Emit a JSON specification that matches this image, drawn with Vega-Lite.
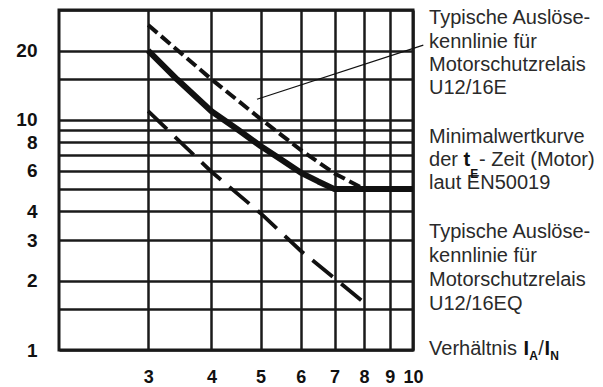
{
  "$schema": "https://vega.github.io/schema/vega-lite/v6.json",
  "width": 354,
  "height": 340,
  "autosize": {"type": "none"},
  "padding": {"left": 59, "top": 10, "right": 190, "bottom": 37},
  "background": "white",
  "config": {
    "view": {"stroke": "#1a1a1a", "strokeWidth": 3},
    "text": {"font": "Liberation Sans"}
  },
  "datasets": {
    "curves": [
      {"series": "U12/16E", "x": 3, "y": 25.8},
      {"series": "U12/16E", "x": 4, "y": 15},
      {"series": "U12/16E", "x": 5, "y": 10.1},
      {"series": "U12/16E", "x": 6, "y": 7.4},
      {"series": "U12/16E", "x": 7, "y": 5.85},
      {"series": "U12/16E", "x": 7.88, "y": 5.1},
      {"series": "EN50019", "x": 3, "y": 20},
      {"series": "EN50019", "x": 3.42, "y": 15},
      {"series": "EN50019", "x": 4, "y": 10.9},
      {"series": "EN50019", "x": 4.5, "y": 9.1},
      {"series": "EN50019", "x": 5, "y": 7.7},
      {"series": "EN50019", "x": 5.5, "y": 6.7},
      {"series": "EN50019", "x": 6, "y": 5.9},
      {"series": "EN50019", "x": 6.5, "y": 5.4},
      {"series": "EN50019", "x": 7, "y": 5.0},
      {"series": "EN50019", "x": 10, "y": 5.0},
      {"series": "U12/16EQ", "x": 3, "y": 10.9},
      {"series": "U12/16EQ", "x": 4, "y": 5.95},
      {"series": "U12/16EQ", "x": 5, "y": 3.93},
      {"series": "U12/16EQ", "x": 6, "y": 2.7},
      {"series": "U12/16EQ", "x": 7, "y": 2.05},
      {"series": "U12/16EQ", "x": 8.05, "y": 1.59},
      {"series": "leader", "x": 4.92, "y": 12.28},
      {"series": "leader", "x": 10.48, "y": 21.1}
    ],
    "labels": [
      {"kind": "normal", "x": 10.757, "y": 26.08, "t": "Typische Auslöse-"},
      {"kind": "normal", "x": 10.757, "y": 20.57, "t": "kennlinie für"},
      {"kind": "normal", "x": 10.757, "y": 16.29, "t": "Motorschutzrelais"},
      {"kind": "normal", "x": 10.757, "y": 12.91, "t": "U12/16E"},
      {"kind": "normal", "x": 10.757, "y": 7.95, "t": "Minimalwertkurve"},
      {"kind": "normal", "x": 10.757, "y": 6.30, "t": "der"},
      {"kind": "normal", "x": 13.506, "y": 6.30, "t": "- Zeit (Motor)"},
      {"kind": "normal", "x": 10.757, "y": 4.99, "t": "laut EN50019"},
      {"kind": "normal", "x": 10.757, "y": 3.075, "t": "Typische Auslöse-"},
      {"kind": "normal", "x": 10.757, "y": 2.419, "t": "kennlinie für"},
      {"kind": "normal", "x": 10.757, "y": 1.903, "t": "Motorschutzrelais"},
      {"kind": "normal", "x": 10.757, "y": 1.492, "t": "U12/16EQ"},
      {"kind": "normal", "x": 10.757, "y": 0.951, "t": "Verhältnis"},
      {"kind": "normal", "x": 17.68, "y": 0.951, "t": "/"},
      {"kind": "bold", "x": 12.585, "y": 6.30, "t": "t"},
      {"kind": "bold", "x": 16.53, "y": 0.951, "t": "I"},
      {"kind": "bold", "x": 18.19, "y": 0.951, "t": "I"},
      {"kind": "sub", "x": 12.975, "y": 5.6, "t": "E"},
      {"kind": "sub", "x": 16.97, "y": 0.905, "t": "A"},
      {"kind": "sub", "x": 18.67, "y": 0.905, "t": "N"}
    ]
  },
  "layer": [
    {
      "data": {"name": "curves"},
      "transform": [{"filter": "datum.series === 'EN50019'"}],
      "mark": {"type": "line", "color": "#111", "strokeWidth": 6, "strokeJoin": "round", "clip": false},
      "encoding": {
        "x": {
          "field": "x", "type": "quantitative",
          "scale": {"type": "log", "domain": [2, 10], "nice": false, "zero": false},
          "axis": {
            "values": [3, 4, 5, 6, 7, 8, 9, 10],
            "title": null,
            "grid": true, "gridColor": "#1a1a1a", "gridWidth": 2.5, "gridOpacity": 1,
            "domain": false, "ticks": false, "tickSize": 0,
            "labelPadding": 18, "labelFont": "Liberation Sans", "labelFontWeight": "bold",
            "labelFontSize": 18, "labelColor": "#111",
            "labelExpr": "'' + datum.value",
            "labelFlush": false, "labelOverlap": false, "labelBound": false
          }
        },
        "y": {
          "field": "y", "type": "quantitative",
          "scale": {"type": "log", "domain": [1, 30], "nice": false, "zero": false},
          "axis": {
            "values": [1, 1.5, 2, 3, 4, 5, 6, 7, 8, 9, 10, 15, 20, 30],
            "title": null,
            "grid": true, "gridColor": "#1a1a1a", "gridWidth": 2.5, "gridOpacity": 1,
            "domain": false, "ticks": false, "tickSize": 0,
            "labelPadding": 22, "labelFont": "Liberation Sans", "labelFontWeight": "bold",
            "labelFontSize": 19, "labelColor": "#111",
            "labelExpr": "indexof([1, 2, 3, 4, 6, 8, 10, 20], datum.value) >= 0 ? '' + datum.value : ''",
            "labelFlush": false, "labelOverlap": false, "labelBound": false
          }
        },
        "order": {"field": "x", "type": "quantitative"}
      }
    },
    {
      "data": {"name": "curves"},
      "transform": [{"filter": "datum.series === 'U12/16E'"}],
      "mark": {"type": "line", "color": "#111", "strokeWidth": 4, "strokeDash": [12, 5], "clip": false},
      "encoding": {
        "x": {"field": "x", "type": "quantitative"},
        "y": {"field": "y", "type": "quantitative"},
        "order": {"field": "x", "type": "quantitative"}
      }
    },
    {
      "data": {"name": "curves"},
      "transform": [{"filter": "datum.series === 'U12/16EQ'"}],
      "mark": {"type": "line", "color": "#111", "strokeWidth": 3.8, "strokeDash": [26, 11], "clip": false},
      "encoding": {
        "x": {"field": "x", "type": "quantitative"},
        "y": {"field": "y", "type": "quantitative"},
        "order": {"field": "x", "type": "quantitative"}
      }
    },
    {
      "data": {"name": "curves"},
      "transform": [{"filter": "datum.series === 'leader'"}],
      "mark": {"type": "line", "color": "#111", "strokeWidth": 1.2, "clip": false},
      "encoding": {
        "x": {"field": "x", "type": "quantitative"},
        "y": {"field": "y", "type": "quantitative"},
        "order": {"field": "x", "type": "quantitative"}
      }
    },
    {
      "data": {"name": "labels"},
      "transform": [{"filter": "datum.kind === 'normal'"}],
      "mark": {"type": "text", "align": "left", "baseline": "alphabetic", "fontSize": 20, "color": "#2a2a2a", "font": "Liberation Sans"},
      "encoding": {
        "x": {"field": "x", "type": "quantitative"},
        "y": {"field": "y", "type": "quantitative"},
        "text": {"field": "t"}
      }
    },
    {
      "data": {"name": "labels"},
      "transform": [{"filter": "datum.kind === 'bold'"}],
      "mark": {"type": "text", "align": "left", "baseline": "alphabetic", "fontSize": 20, "fontWeight": "bold", "color": "#111", "font": "Liberation Sans"},
      "encoding": {
        "x": {"field": "x", "type": "quantitative"},
        "y": {"field": "y", "type": "quantitative"},
        "text": {"field": "t"}
      }
    },
    {
      "data": {"name": "labels"},
      "transform": [{"filter": "datum.kind === 'sub'"}],
      "mark": {"type": "text", "align": "left", "baseline": "alphabetic", "fontSize": 12, "fontWeight": "bold", "color": "#111", "font": "Liberation Sans"},
      "encoding": {
        "x": {"field": "x", "type": "quantitative"},
        "y": {"field": "y", "type": "quantitative"},
        "text": {"field": "t"}
      }
    }
  ]
}
